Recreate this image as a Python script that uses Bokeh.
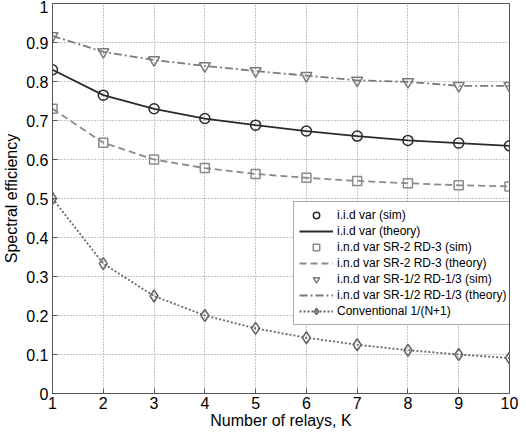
from bokeh.plotting import figure
from bokeh.models import FixedTicker, Legend, LegendItem, Range1d
from bokeh.embed import file_html
from bokeh.resources import INLINE

K = [1, 2, 3, 4, 5, 6, 7, 8, 9, 10]
iid_sim = [0.830, 0.765, 0.730, 0.705, 0.688, 0.673, 0.660, 0.649, 0.642, 0.635]
iid_theory = [0.830, 0.765, 0.730, 0.705, 0.688, 0.673, 0.660, 0.649, 0.642, 0.635]
sr2_sim = [0.730, 0.643, 0.600, 0.578, 0.563, 0.553, 0.545, 0.539, 0.534, 0.531]
sr2_theory = [0.730, 0.643, 0.600, 0.578, 0.563, 0.553, 0.545, 0.539, 0.534, 0.531]
sr12_sim = [0.917, 0.876, 0.855, 0.840, 0.827, 0.815, 0.803, 0.799, 0.789, 0.789]
sr12_theory = [0.917, 0.876, 0.855, 0.840, 0.827, 0.815, 0.803, 0.799, 0.789, 0.789]
conv = [0.500, 0.333, 0.250, 0.200, 0.167, 0.143, 0.125, 0.111, 0.100, 0.091]

x_ticks = [1, 2, 3, 4, 5, 6, 7, 8, 9, 10]
y_ticks = [0.0, 0.1, 0.2, 0.3, 0.4, 0.5, 0.6, 0.7, 0.8, 0.9, 1.0]
y_tick_labels = ["0", "0.1", "0.2", "0.3", "0.4", "0.5", "0.6", "0.7", "0.8", "0.9", "1"]

labels = [
    "i.i.d var (sim)",
    "i.i.d var (theory)",
    "i.n.d var SR-2 RD-3 (sim)",
    "i.n.d var SR-2 RD-3 (theory)",
    "i.n.d var SR-1/2 RD-1/3 (sim)",
    "i.n.d var SR-1/2 RD-1/3 (theory)",
    "Conventional 1/(N+1)",
]

FONT = "Liberation Sans"

p = figure(width=518, height=431, output_backend="svg", toolbar_location=None,
           x_range=Range1d(1, 10), y_range=Range1d(0, 1),
           min_border_left=45, min_border_right=9, min_border_top=3, min_border_bottom=30)
p.background_fill_color = "white"
p.border_fill_color = "white"
p.outline_line_color = "#555555"
p.outline_line_width = 1

for ax in (p.xaxis[0], p.yaxis[0]):
    ax.major_label_text_font = FONT
    ax.major_label_text_font_size = "16px"
    ax.major_label_text_color = "black"
    ax.axis_label_text_font = FONT
    ax.axis_label_text_font_size = "16px"
    ax.axis_label_text_font_style = "normal"
    ax.axis_label_text_color = "black"
    ax.axis_line_color = "#555555"
    ax.major_tick_line_color = "#555555"
    ax.major_tick_in = 5
    ax.major_tick_out = 0
    ax.minor_tick_line_color = None

p.xaxis.major_label_standoff = 3
p.xaxis.axis_label_standoff = 0
p.yaxis.major_label_standoff = 4
p.yaxis.axis_label_standoff = 3

p.xaxis.ticker = FixedTicker(ticks=x_ticks)
p.yaxis.ticker = FixedTicker(ticks=y_ticks)
p.yaxis.major_label_overrides = {t: l for t, l in zip(y_ticks, y_tick_labels)}
p.xaxis.axis_label = "Number of relays, K"
p.yaxis.axis_label = "Spectral efficiency"

p.xgrid.ticker = FixedTicker(ticks=x_ticks)
p.ygrid.ticker = FixedTicker(ticks=y_ticks)
p.grid.grid_line_color = "#8a8a8a"
p.grid.grid_line_dash = "1 2"
p.grid.grid_line_width = 1

c_iid = "#2a2a2a"
c_sr2 = "#8a8a8a"
c_sr12 = "#7a7a7a"
c_conv = "#666666"

r_iid_l = p.line(K, iid_theory, line_color=c_iid, line_width=1.8)
r_iid_m = p.scatter(K, iid_sim, marker="circle", size=10, fill_color=None, line_color=c_iid, line_width=1.5)
r_sr2_l = p.line(K, sr2_theory, line_color=c_sr2, line_width=1.8, line_dash="7 4")
r_sr2_m = p.scatter(K, sr2_sim, marker="square", size=9, fill_color=None, line_color=c_sr2, line_width=1.5)
r_sr12_l = p.line(K, sr12_theory, line_color=c_sr12, line_width=1.8, line_dash="8 3 2 3")
r_sr12_m = p.scatter(K, sr12_sim, marker="inverted_triangle", size=11, fill_color=None, line_color=c_sr12, line_width=1.5)
r_conv_l = p.line(K, conv, line_color=c_conv, line_width=1.8, line_dash="2 2")
r_conv_m = p.scatter(K, conv, marker="diamond", size=12, fill_color=None, line_color=c_conv, line_width=1.5)

items = [
    LegendItem(label=labels[0], renderers=[r_iid_m]),
    LegendItem(label=labels[1], renderers=[r_iid_l]),
    LegendItem(label=labels[2], renderers=[r_sr2_m]),
    LegendItem(label=labels[3], renderers=[r_sr2_l]),
    LegendItem(label=labels[4], renderers=[r_sr12_m]),
    LegendItem(label=labels[5], renderers=[r_sr12_l]),
    LegendItem(label=labels[6], renderers=[r_conv_l, r_conv_m]),
]
legend = Legend(items=items, location=(241, 68))
legend.label_text_font = FONT
legend.label_text_font_size = "12px"
legend.label_text_color = "black"
legend.glyph_width = 34
legend.glyph_height = 16
legend.label_height = 16
legend.spacing = 0
legend.padding = 5
legend.margin = 0
legend.label_standoff = 4
legend.border_line_color = "#555555"
legend.border_line_width = 1
legend.background_fill_color = "white"
legend.background_fill_alpha = 1
p.add_layout(legend)

open("out.html", "w").write(file_html(p, INLINE))
